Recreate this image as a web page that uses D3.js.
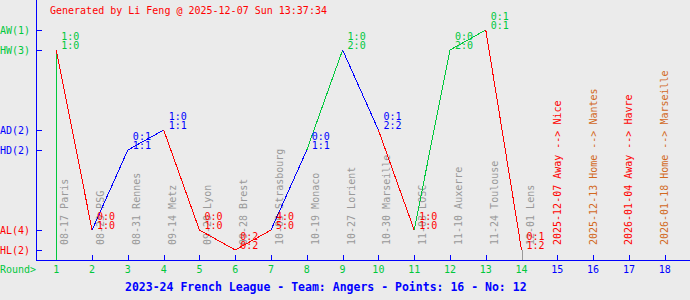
<!DOCTYPE html>
<html>
<head>
<meta charset="utf-8">
<script src="https://cdn.jsdelivr.net/npm/d3@7"></script>
<style>
  body { margin: 0; background: #ebebeb; }
  svg { display: block; background: #ebebeb; }
  text { font-family: "DejaVu Sans Mono", monospace; font-size: 10px; }
</style>
</head>
<body>
<div id="chart"></div>
<script>
// 1: DATA
const rounds = d3.range(1, 19);
const played = ["HW", "AL", "HD", "AD", "AL", "HL", "AL", "HD", "HW", "AD", "AL", "HW", "AW", "HL"];
const halfTime = ["1:0", "0:0", "0:1", "1:0", "0:0", "0:2", "4:0", "0:0", "1:0", "0:1", "1:0", "0:0", "0:1", "0:1"];
const fullTime = ["1:0", "1:0", "1:1", "1:1", "1:0", "0:2", "5:0", "1:1", "2:0", "2:2", "1:0", "2:0", "0:1", "1:2"];
const matches = ["08-17 Paris", "08-23 PSG", "08-31 Rennes", "09-14 Metz", "09-20 Lyon", "09-28 Brest",
  "10-05 Strasbourg", "10-19 Monaco", "10-27 Lorient", "10-30 Marseille", "11-03 LOSC",
  "11-10 Auxerre", "11-24 Toulouse", "12-01 Lens"];
const upcoming = ["2025-12-07 Away --> Nice", "2025-12-13 Home --> Nantes",
  "2026-01-04 Away --> Havre", "2026-01-18 Home --> Marseille"];
const resultCodes = ["AW", "HW", "AD", "HD", "AL", "HL"];
const resultCounts = [1, 3, 2, 2, 4, 2];
const resultLevels = [11.5, 10.5, 6.5, 5.5, 1.5, 0.5];

const title = "2023-24 French League - Team: Angers - Points: 16 - No: 12";
const header = "Generated by Li Feng @ 2025-12-07 Sun 13:37:34";

// 2: SETUP
const W = 690, H = 300;
const green = "#00c83c", blue = "#0000ff", red = "#ff0000", gray = "#999999", brown = "#d2691e";

const svg = d3.select("#chart").append("svg")
  .attr("width", W).attr("height", H);

const xScale = d3.scaleLinear().domain([0, 19]).range([20.5, 700.5]);
const yScale = d3.scaleLinear().domain([0, 13]).range([260, 0]);
const level = d3.scaleOrdinal().domain(resultCodes).range(resultLevels);
const colorOf = r => r[1] === "W" ? green : r[1] === "D" ? blue : red;

const px = v => Math.round(v) + 0.5;

// 3: AXES
svg.append("line")
  .attr("x1", 36.5).attr("x2", 36.5).attr("y1", 0).attr("y2", 260.5)
  .attr("stroke", blue).attr("shape-rendering", "crispEdges");
svg.append("line")
  .attr("x1", 36).attr("x2", W).attr("y1", 260.5).attr("y2", 260.5)
  .attr("stroke", blue).attr("shape-rendering", "crispEdges");

resultCodes.forEach((c, i) => {
  const y = yScale(level(c));
  svg.append("line")
    .attr("x1", 36).attr("x2", 42).attr("y1", px(y)).attr("y2", px(y))
    .attr("stroke", blue).attr("shape-rendering", "crispEdges");
  svg.append("text")
    .attr("x", 0).attr("y", y + 4)
    .attr("fill", colorOf(c))
    .text(`${c}(${resultCounts[i]})`);
});

rounds.forEach(r => {
  const x = px(xScale(r));
  svg.append("line")
    .attr("x1", x).attr("x2", x).attr("y1", 255).attr("y2", 260)
    .attr("stroke", blue).attr("shape-rendering", "crispEdges");
  svg.append("text")
    .attr("x", xScale(r)).attr("y", 273)
    .attr("text-anchor", "middle")
    .attr("fill", r <= played.length ? green : blue)
    .text(r);
});

svg.append("text")
  .attr("x", 0).attr("y", 273)
  .attr("fill", green)
  .text("Round>");

// 4: FIRST / LAST VERTICALS
const pts = played.map((r, i) => ({ round: i + 1, res: r, y: yScale(level(r)) }));
const first = pts[0], last = pts[pts.length - 1];
svg.append("line")
  .attr("x1", px(xScale(first.round))).attr("x2", px(xScale(first.round)))
  .attr("y1", first.y).attr("y2", 260)
  .attr("stroke", colorOf(first.res)).attr("shape-rendering", "crispEdges");
svg.append("line")
  .attr("x1", px(xScale(last.round))).attr("x2", px(xScale(last.round)))
  .attr("y1", last.y).attr("y2", 260)
  .attr("stroke", gray).attr("shape-rendering", "crispEdges");

// 5: MATCH LABELS
matches.forEach((m, i) => {
  const x = xScale(i + 1) + 12, y = 245;
  svg.append("text")
    .attr("transform", `translate(${x},${y}) rotate(-90)`)
    .attr("fill", gray)
    .text(m);
});
upcoming.forEach((m, i) => {
  const x = xScale(played.length + i + 1) + 3.5, y = 245;
  svg.append("text")
    .attr("transform", `translate(${x},${y}) rotate(-90)`)
    .attr("fill", m.includes("Away") ? red : brown)
    .text(m);
});

// 6: RESULT LINE
for (let i = 1; i < pts.length; i++) {
  svg.append("path")
    .datum([pts[i - 1], pts[i]])
    .attr("d", d3.line().x(d => xScale(d.round)).y(d => d.y))
    .attr("fill", "none")
    .attr("stroke", colorOf(pts[i].res))
    .attr("stroke-width", 1)
    .attr("shape-rendering", "crispEdges");
}

// 7: SCORES
pts.forEach((d, i) => {
  const x = xScale(d.round) + 5;
  svg.append("text").attr("x", x).attr("y", d.y - 10)
    .attr("fill", colorOf(d.res)).text(halfTime[i]);
  svg.append("text").attr("x", x).attr("y", d.y - 1)
    .attr("fill", colorOf(d.res)).text(fullTime[i]);
});

// 8: TITLES
svg.append("text")
  .attr("x", 50).attr("y", 14)
  .attr("fill", red)
  .text(header);

svg.append("text")
  .attr("x", 125).attr("y", 291)
  .attr("fill", blue)
  .style("font-size", "11.5px")
  .style("font-weight", "bold")
  .text(title);
</script>
</body>
</html>
